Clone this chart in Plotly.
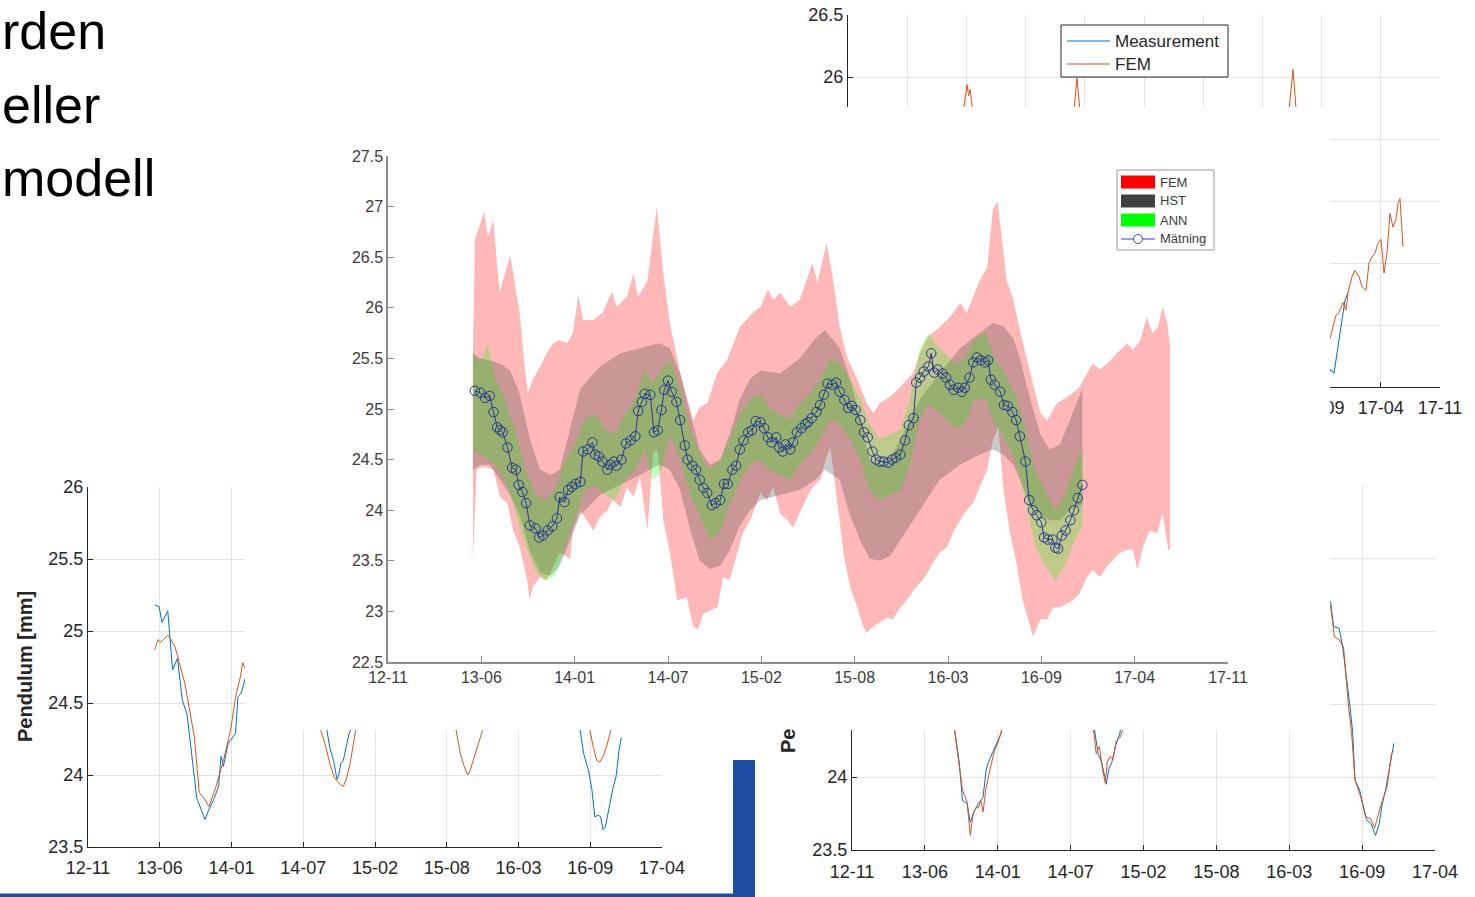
import plotly.graph_objects as go

W, H = 1475, 897
FONT = "Liberation Sans, Arial, sans-serif"

# ---------------- main chart data (x in tick-interval units: 0 = 12-11, 1 = 13-06, ...)
main_ticks = ["12-11", "13-06", "14-01", "14-07", "15-02", "15-08", "16-03", "16-09", "17-04", "17-11"]

meas_t = [0.93, 0.99, 1.04, 1.09, 1.13, 1.17, 1.20, 1.23, 1.28, 1.33,
          1.37, 1.40, 1.44, 1.48, 1.52, 1.58, 1.62, 1.66, 1.71, 1.76,
          1.81, 1.84, 1.89, 1.93, 1.97, 2.01, 2.06, 2.09, 2.14, 2.19,
          2.22, 2.26, 2.30, 2.35, 2.38, 2.42, 2.45, 2.50, 2.55, 2.60,
          2.65, 2.68, 2.72, 2.75, 2.81, 2.85, 2.89, 2.93, 2.96, 3.00,
          3.04, 3.09, 3.13, 3.18, 3.21, 3.26, 3.30, 3.34, 3.38, 3.42,
          3.47, 3.51, 3.56, 3.60, 3.64, 3.69, 3.73, 3.77, 3.81, 3.86,
          3.90, 3.94, 3.99, 4.03, 4.07, 4.11, 4.16, 4.19, 4.23, 4.26,
          4.31, 4.34, 4.38, 4.43, 4.47, 4.50, 4.54, 4.59, 4.63, 4.67,
          4.71, 4.76, 4.80, 4.84, 4.89, 4.93, 4.97, 5.01, 5.06, 5.10,
          5.14, 5.19, 5.23, 5.27, 5.31, 5.36, 5.40, 5.44, 5.49, 5.54,
          5.58, 5.63, 5.66, 5.70, 5.74, 5.79, 5.82, 5.85, 5.89, 5.94,
          5.98, 6.02, 6.06, 6.11, 6.15, 6.18, 6.23, 6.27, 6.31, 6.35,
          6.40, 6.43, 6.46, 6.50, 6.56, 6.60, 6.64, 6.69, 6.73, 6.77,
          6.83, 6.87, 6.91, 6.95, 7.00, 7.03, 7.07, 7.12, 7.15, 7.18,
          7.22, 7.26, 7.31, 7.35, 7.39, 7.44]
meas_y = [25.18, 25.16, 25.11, 25.13, 24.97, 24.82, 24.79, 24.77, 24.62, 24.42,
          24.40, 24.25, 24.18, 24.07, 23.85, 23.82, 23.73, 23.75, 23.80, 23.84,
          23.92, 24.13, 24.08, 24.20, 24.23, 24.26, 24.28, 24.58, 24.60, 24.67,
          24.55, 24.53, 24.48, 24.40, 24.45, 24.48, 24.44, 24.50, 24.66, 24.69,
          24.73, 24.98, 25.07, 25.15, 25.14, 24.77, 24.79, 24.99, 25.19, 25.28,
          25.17, 25.07, 24.89, 24.64, 24.50, 24.44, 24.40, 24.30, 24.22, 24.17,
          24.05, 24.07, 24.10, 24.26, 24.26, 24.40, 24.44, 24.60, 24.69, 24.77,
          24.79, 24.88, 24.87, 24.81, 24.72, 24.67, 24.72, 24.62, 24.58, 24.65,
          24.60, 24.67, 24.77, 24.81, 24.85, 24.87, 24.91, 24.97, 25.04, 25.14,
          25.25, 25.24, 25.26, 25.17, 25.09, 25.01, 25.03, 24.99, 24.89, 24.77,
          24.72, 24.58, 24.50, 24.48, 24.48, 24.47, 24.50, 24.52, 24.55, 24.69,
          24.84, 24.91, 25.26, 25.31, 25.37, 25.42, 25.55, 25.36, 25.39, 25.35,
          25.31, 25.24, 25.19, 25.21, 25.17, 25.21, 25.31, 25.46, 25.51, 25.48,
          25.46, 25.48, 25.29, 25.24, 25.17, 25.04, 25.03, 24.97, 24.89, 24.73,
          24.48, 24.10, 24.00, 23.95, 23.88, 23.73, 23.71, 23.71, 23.63, 23.62,
          23.75, 23.80, 23.90, 24.00, 24.12, 24.25]

fem_up_t = [0.91, 0.93, 1.03, 1.07, 1.13, 1.17, 1.20, 1.23, 1.31, 1.34,
            1.41, 1.47, 1.50, 1.55, 1.63, 1.70, 1.77, 1.84, 1.92, 1.98,
            2.04, 2.09, 2.20, 2.30, 2.40, 2.45, 2.56, 2.63, 2.68, 2.78,
            2.88, 2.95, 3.02, 3.13, 3.27, 3.34, 3.42, 3.53, 3.63, 3.77,
            3.91, 3.99, 4.07, 4.13, 4.20, 4.31, 4.41, 4.55, 4.60, 4.70,
            4.77, 4.84, 4.92, 5.03, 5.13, 5.20, 5.27, 5.38, 5.49, 5.63,
            5.70, 5.78, 5.91, 6.02, 6.13, 6.20, 6.27, 6.34, 6.42, 6.48,
            6.53, 6.58, 6.63, 6.70, 6.77, 6.88, 6.99, 7.06, 7.17, 7.28,
            7.34, 7.41, 7.49, 7.55, 7.63, 7.74, 7.81, 7.92, 7.98, 8.06,
            8.13, 8.19, 8.25, 8.30, 8.35, 8.38]
fem_up_y = [25.51, 26.67, 26.95, 26.70, 26.87, 26.40, 26.15, 26.27, 26.52, 26.34,
            25.95, 25.36, 25.16, 25.29, 25.42, 25.55, 25.65, 25.68, 25.65, 25.75,
            26.13, 25.88, 25.88, 25.95, 26.16, 26.01, 26.11, 26.34, 26.11, 26.27,
            27.00, 26.34, 25.85, 25.36, 24.89, 25.02, 25.06, 25.36, 25.48, 25.81,
            25.95, 26.01, 26.18, 26.08, 26.15, 26.01, 26.08, 26.44, 26.25, 26.64,
            26.27, 25.81, 25.51, 25.29, 25.06, 24.96, 25.06, 25.12, 25.22, 25.36,
            25.55, 25.71, 25.81, 25.91, 26.05, 25.95, 26.11, 26.27, 26.40, 26.97,
            27.05, 26.67, 26.27, 26.08, 25.78, 25.36, 24.96, 24.89, 25.06, 25.12,
            25.16, 25.22, 25.36, 25.45, 25.39, 25.48, 25.55, 25.65, 25.58, 25.68,
            25.91, 25.75, 25.81, 26.01, 25.85, 25.61]
fem_lo_t = [0.91, 0.95, 1.02, 1.13, 1.20, 1.28, 1.34, 1.41, 1.49, 1.52,
            1.55, 1.63, 1.70, 1.77, 1.84, 1.92, 1.95, 1.98, 2.06, 2.13,
            2.20, 2.27, 2.35, 2.41, 2.49, 2.56, 2.63, 2.70, 2.78, 2.84,
            2.89, 2.95, 3.02, 3.10, 3.20, 3.27, 3.32, 3.38, 3.45, 3.53,
            3.59, 3.66, 3.74, 3.80, 3.88, 3.99, 4.06, 4.13, 4.20, 4.28,
            4.34, 4.41, 4.49, 4.55, 4.63, 4.70, 4.74, 4.81, 4.88, 4.95,
            5.03, 5.09, 5.13, 5.20, 5.27, 5.35, 5.41, 5.49, 5.56, 5.63,
            5.70, 5.78, 5.84, 5.91, 5.99, 6.05, 6.13, 6.20, 6.27, 6.34,
            6.42, 6.48, 6.54, 6.59, 6.66, 6.74, 6.80, 6.86, 6.91, 6.99,
            7.06, 7.13, 7.20, 7.28, 7.34, 7.41, 7.49, 7.55, 7.63, 7.70,
            7.77, 7.84, 7.92, 7.98, 8.03, 8.09, 8.16, 8.24, 8.30, 8.36,
            8.38]
fem_lo_y = [23.51, 24.40, 24.43, 24.40, 24.13, 24.07, 23.80, 23.64, 23.31, 23.11,
            23.24, 23.34, 23.31, 23.44, 23.58, 23.54, 23.51, 23.80, 24.00, 23.90,
            23.80, 23.93, 24.00, 24.10, 24.03, 24.23, 24.13, 24.33, 23.80, 24.57,
            24.59, 23.90, 23.58, 23.11, 23.14, 22.85, 22.82, 22.98, 23.01, 23.04,
            23.34, 23.31, 23.58, 23.77, 23.90, 24.17, 24.10, 24.23, 23.97, 23.90,
            23.83, 23.97, 24.13, 24.23, 24.30, 24.53, 24.62, 24.10, 23.58, 23.24,
            23.04, 22.85, 22.79, 22.85, 22.89, 22.94, 22.92, 23.04, 23.11, 23.21,
            23.28, 23.38, 23.48, 23.58, 23.64, 23.77, 23.90, 24.00, 24.07, 24.23,
            24.40, 24.69, 24.82, 24.23, 23.80, 23.44, 23.11, 22.92, 22.75, 22.92,
            22.92, 23.04, 23.04, 23.08, 23.11, 23.18, 23.34, 23.41, 23.34, 23.44,
            23.51, 23.58, 23.61, 23.61, 23.41, 23.64, 23.80, 23.77, 23.97, 23.61,
            23.61]

hst_t = [0.91, 0.99, 1.09, 1.20, 1.31, 1.41, 1.52, 1.63, 1.74, 1.84,
         1.95, 2.06, 2.27, 2.49, 2.70, 2.91, 3.02, 3.13, 3.24, 3.34,
         3.45, 3.56, 3.66, 3.77, 3.88, 3.99, 4.20, 4.41, 4.58, 4.68,
         4.84, 4.95, 5.06, 5.16, 5.27, 5.38, 5.49, 5.70, 5.91, 6.13,
         6.34, 6.48, 6.59, 6.70, 6.77, 6.88, 6.99, 7.09, 7.20, 7.31,
         7.44]
hst_up = [25.55, 25.50, 25.48, 25.45, 25.38, 25.15, 24.70, 24.40, 24.35, 24.40,
          24.80, 25.20, 25.42, 25.55, 25.60, 25.65, 25.60, 25.35, 24.95, 24.60,
          24.45, 24.50, 24.75, 25.10, 25.30, 25.38, 25.35, 25.50, 25.70, 25.78,
          25.60, 25.30, 24.90, 24.50, 24.45, 24.50, 24.70, 25.10, 25.35, 25.60,
          25.75, 25.85, 25.82, 25.70, 25.50, 25.10, 24.75, 24.60, 24.65, 24.90,
          25.20]
hst_lo = [24.40, 24.45, 24.45, 24.30, 24.15, 23.95, 23.60, 23.38, 23.35, 23.45,
          23.70, 23.95, 24.15, 24.25, 24.35, 24.45, 24.40, 24.20, 23.80, 23.50,
          23.42, 23.45, 23.60, 23.85, 24.00, 24.10, 24.15, 24.20, 24.30, 24.40,
          24.30, 23.95, 23.70, 23.52, 23.50, 23.55, 23.70, 24.00, 24.30, 24.45,
          24.55, 24.60, 24.55, 24.45, 24.30, 24.05, 23.95, 23.90, 23.90, 24.00,
          24.05]

ann_t = [0.91, 0.99, 1.07, 1.15, 1.25, 1.36, 1.47, 1.58, 1.68, 1.79,
         1.90, 2.00, 2.11, 2.22, 2.33, 2.43, 2.54, 2.65, 2.75, 2.83,
         2.91, 3.02, 3.13, 3.24, 3.34, 3.45, 3.56, 3.66, 3.77, 3.88,
         3.99, 4.09, 4.20, 4.31, 4.41, 4.52, 4.63, 4.74, 4.84, 4.95,
         5.06, 5.16, 5.27, 5.38, 5.49, 5.59, 5.70, 5.79, 5.86, 5.97,
         6.08, 6.18, 6.29, 6.40, 6.50, 6.61, 6.72, 6.83, 6.93, 7.04,
         7.15, 7.25, 7.36, 7.44]
ann_up = [25.55, 25.45, 25.65, 25.30, 25.10, 24.80, 24.40, 24.15, 24.10, 24.20,
          24.50, 24.65, 24.90, 24.95, 24.80, 24.75, 24.95, 25.10, 25.40, 25.25,
          25.35, 25.50, 25.20, 24.80, 24.55, 24.40, 24.50, 24.70, 24.95, 25.10,
          25.15, 25.00, 24.95, 24.90, 25.05, 25.15, 25.30, 25.50, 25.45, 25.30,
          25.10, 24.85, 24.70, 24.75, 24.80, 25.10, 25.60, 25.75, 25.65, 25.55,
          25.45, 25.50, 25.70, 25.75, 25.50, 25.35, 25.15, 24.80, 24.40, 24.20,
          24.00, 24.15, 24.45, 24.60]
ann_lo = [24.60, 24.55, 24.50, 24.45, 24.30, 24.00, 23.65, 23.40, 23.30, 23.35,
          23.65, 23.90, 24.20, 24.25, 24.15, 24.10, 24.30, 24.40, 24.60, 24.30,
          24.35, 24.75, 24.50, 24.15, 23.95, 23.70, 23.80, 24.05, 24.30, 24.45,
          24.50, 24.40, 24.35, 24.30, 24.45, 24.55, 24.70, 24.90, 24.85, 24.70,
          24.50, 24.20, 24.10, 24.15, 24.20, 24.45, 24.90, 25.05, 25.00, 24.90,
          24.80, 24.85, 25.10, 25.10, 24.85, 24.70, 24.50, 24.10, 23.65, 23.45,
          23.30, 23.45, 23.70, 23.85]

main_legend_names = ["FEM", "HST", "ANN", "Mätning"]

# ---------------- background slide charts (partly hidden behind the main chart)
tr_ticks = ["12-04"] + main_ticks
tr_legend_names = ["Measurement", "FEM"]
tr_fem_t = [0.926, 0.976, 1.010, 1.036, 1.061, 1.086, 1.128, None,
            2.801, 2.835, 2.868, 2.902, 2.936, None,
            6.433, 6.483, 6.517, 6.551, 6.585, None,
            7.074, 7.159, 7.243, 7.294, 7.362, 7.412, 7.446, 7.514, 7.564, 7.632,
            7.682, 7.750, 7.801, 7.851, 7.902, 7.953, 8.003, 8.054, 8.105, 8.155,
            8.206, 8.257, 8.291, 8.324, 8.375]
tr_fem_y = [25.65, 25.81, 25.94, 25.85, 25.90, 25.81, 25.61, None,
            25.65, 25.81, 25.99, 25.81, 25.65, None,
            25.65, 25.90, 26.06, 25.85, 25.65, None,
            23.80, 23.92, 24.08, 24.10, 24.18, 24.12, 24.26, 24.39, 24.44, 24.39,
            24.31, 24.28, 24.50, 24.55, 24.58, 24.66, 24.69, 24.42, 24.58, 24.90,
            24.79, 24.85, 24.98, 25.02, 24.63]
tr_meas_t = [7.074, 7.159, 7.209, 7.260, 7.328, 7.395, 7.446]
tr_meas_y = [23.56, 23.64, 23.61, 23.77, 23.98, 24.20, 24.26]

bot_ticks = main_ticks[:9]
bl_meas_t = [0.930, 0.991, 1.031, 1.112, 1.179, 1.247, 1.314, 1.381, 1.516, 1.631,
             1.685, 1.752, 1.820, 1.854, 1.887, 1.954, 2.056, 2.089, 2.137, 2.191,
             2.258, None,
             3.30, 3.337, 3.370, 3.423, 3.470, 3.491, 3.525, 3.558, 3.606, 3.639,
             3.672, 3.70, None,
             6.82, 6.861, 6.907, 6.976, 7.023, 7.063, 7.111, 7.144, 7.178, 7.211,
             7.265, 7.313, 7.360, 7.401, 7.434]
bl_meas_y = [25.18, 25.17, 25.06, 25.14, 24.73, 24.81, 24.52, 24.42, 23.84, 23.69,
             23.76, 23.83, 23.92, 24.13, 24.06, 24.22, 24.29, 24.54, 24.57, 24.67,
             24.72, None,
             24.40, 24.30, 24.19, 24.10, 23.97, 23.99, 24.08, 24.10, 24.22, 24.29,
             24.32, 24.40, None,
             24.45, 24.30, 24.15, 24.03, 23.90, 23.71, 23.72, 23.71, 23.62, 23.64,
             23.78, 23.90, 23.99, 24.17, 24.26]
bl_fem_t = [0.930, 0.976, 1.010, 1.112, 1.157, 1.213, 1.348, 1.483, 1.550, 1.617,
            1.685, 1.784, 1.887, 1.987, 2.056, 2.123, 2.156, 2.191, 2.258, None,
            3.20, 3.249, 3.302, 3.370, 3.437, 3.505, 3.558, 3.606, 3.653, 3.707,
            3.727, 3.77, None,
            5.09, 5.136, 5.189, 5.243, 5.290, 5.324, 5.357, 5.405, 5.459, 5.493,
            5.54, None,
            6.95, 6.996, 7.044, 7.091, 7.132, 7.178, 7.222, 7.277, 7.32]
bl_fem_y = [24.87, 24.94, 24.92, 24.97, 24.94, 24.89, 24.64, 24.26, 23.88, 23.84,
            23.78, 23.92, 24.10, 24.31, 24.54, 24.68, 24.78, 24.74, 24.80, None,
            24.42, 24.30, 24.22, 24.08, 23.98, 23.94, 23.92, 23.98, 24.08, 24.26,
            24.30, 24.42, None,
            24.42, 24.30, 24.15, 24.06, 24.00, 24.03, 24.08, 24.15, 24.24, 24.30,
            24.42, None,
            24.42, 24.30, 24.19, 24.10, 24.09, 24.13, 24.19, 24.29, 24.42]

br_meas_t = [1.38, 1.409, 1.472, 1.516, 1.579, 1.623, 1.672, 1.735, 1.798, 1.841,
             1.872, 1.923, 1.986, 2.048, 2.09, None,
             3.30, 3.332, 3.376, 3.426, 3.490, 3.521, 3.565, 3.614, 3.676, 3.72, None,
             6.488, 6.570, 6.608, 6.683, 6.734, 6.776, 6.839, 6.871, 6.902, 6.966,
             7.009, 7.059, 7.122, 7.184, 7.234, 7.278, 7.322, 7.373, 7.435]
br_meas_y = [24.42, 24.31, 24.10, 23.84, 23.82, 23.69, 23.76, 23.82, 23.86, 24.05,
             24.10, 24.16, 24.23, 24.30, 24.42, None,
             24.42, 24.31, 24.16, 24.10, 23.95, 24.05, 24.10, 24.21, 24.30, 24.42, None,
             25.28, 25.19, 25.03, 25.02, 24.89, 24.73, 24.46, 24.30, 23.98, 23.91,
             23.82, 23.71, 23.68, 23.60, 23.68, 23.82, 23.91, 24.05, 24.23]
br_fem_t = [1.38, 1.409, 1.454, 1.516, 1.579, 1.623, 1.660, 1.704, 1.735, 1.767,
            1.798, 1.835, 1.892, 1.955, 1.999, 2.048, 2.09, None,
            3.29, 3.320, 3.351, 3.395, 3.439, 3.476, 3.502, 3.539, 3.583, 3.627,
            3.676, 3.708, 3.75, None,
            6.488, 6.570, 6.620, 6.683, 6.745, 6.808, 6.859, 6.902, 6.983, 7.046,
            7.122, 7.171, 7.215, 7.278, 7.341, 7.403, 7.435]
br_fem_y = [24.42, 24.31, 24.16, 23.91, 23.83, 23.60, 23.75, 23.79, 23.79, 23.84,
            23.76, 23.91, 24.05, 24.18, 24.23, 24.31, 24.42, None,
            24.42, 24.31, 24.16, 24.21, 24.05, 23.96, 24.10, 24.14, 24.12, 24.25,
            24.27, 24.31, 24.42, None,
            25.28, 25.16, 24.96, 24.94, 24.89, 24.51, 24.28, 23.98, 23.86, 23.73,
            23.71, 23.65, 23.73, 23.84, 23.93, 24.16, 24.18]

slide_words = ["rden", "eller", "modell"]

# ---------------- helpers (pixel -> paper fraction)
def px_x(p):
    return p / W


def px_y(p):
    return 1 - p / H


BLUE = "#0072BD"
ORANGE = "#D95319"
DARK = "#262626"
MEAS_LINE = "#23398f"
MEAS_MARK = "#3440d8"
FILL_FEM = "rgba(255,0,0,0.28)"
FILL_HST = "rgba(64,64,64,0.28)"
FILL_ANN = "rgba(0,255,0,0.25)"

fig = go.Figure()

# --- subplot 1: top-right background chart
fig.add_trace(go.Scatter(x=tr_meas_t, y=tr_meas_y, mode="lines", name="Measurement",
                         showlegend=False, line=dict(color=BLUE, width=1),
                         xaxis="x", yaxis="y"))
fig.add_trace(go.Scatter(x=tr_fem_t, y=tr_fem_y, mode="lines", name="FEM",
                         showlegend=False, line=dict(color=ORANGE, width=1),
                         xaxis="x", yaxis="y"))
# --- subplot 2: bottom-left background chart
fig.add_trace(go.Scatter(x=bl_meas_t, y=bl_meas_y, mode="lines", showlegend=False,
                         line=dict(color=BLUE, width=1), xaxis="x2", yaxis="y2"))
fig.add_trace(go.Scatter(x=bl_fem_t, y=bl_fem_y, mode="lines", showlegend=False,
                         line=dict(color=ORANGE, width=1), xaxis="x2", yaxis="y2"))
# --- subplot 3: bottom-right background chart
fig.add_trace(go.Scatter(x=br_meas_t, y=br_meas_y, mode="lines", showlegend=False,
                         line=dict(color=BLUE, width=1), xaxis="x3", yaxis="y3"))
fig.add_trace(go.Scatter(x=br_fem_t, y=br_fem_y, mode="lines", showlegend=False,
                         line=dict(color=ORANGE, width=1), xaxis="x3", yaxis="y3"))
# --- subplot 4: white panel of the pasted main picture (covers the slide charts)
fig.add_trace(go.Scatter(x=[None], y=[None], showlegend=False, hoverinfo="skip",
                         xaxis="x4", yaxis="y4"))


# --- subplot 5: main chart
def band(tu, yu, tl, yl):
    return list(tu) + list(tl)[::-1], list(yu) + list(yl)[::-1]


for (tu, yu, tl, yl), col in [((fem_up_t, fem_up_y, fem_lo_t, fem_lo_y), FILL_FEM),
                              ((hst_t, hst_up, hst_t, hst_lo), FILL_HST),
                              ((ann_t, ann_up, ann_t, ann_lo), FILL_ANN)]:
    bx, by = band(tu, yu, tl, yl)
    fig.add_trace(go.Scatter(x=bx, y=by, fill="toself", fillcolor=col,
                             line=dict(width=0), mode="lines", showlegend=False,
                             xaxis="x5", yaxis="y5", hoverinfo="skip"))
fig.add_trace(go.Scatter(x=meas_t, y=meas_y, mode="lines+markers", showlegend=False,
                         line=dict(color=MEAS_LINE, width=1),
                         marker=dict(symbol="circle-open", size=9.5,
                                     line=dict(color=MEAS_MARK, width=1)),
                         xaxis="x5", yaxis="y5"))

bg_axis = dict(showline=True, linecolor=DARK, linewidth=1, ticks="inside", ticklen=5,
               tickcolor=DARK, showgrid=True, gridcolor="#e3e3e3", gridwidth=1,
               zeroline=False, automargin=False,
               tickfont=dict(family=FONT, size=18, color=DARK))
main_axis = dict(showline=True, linecolor="#8c8c8c", linewidth=1.5, ticks="inside",
                 ticklen=6, tickcolor="#8c8c8c", showgrid=False, zeroline=False,
                 automargin=False, tickfont=dict(family=FONT, size=16, color="#3c3c3c"))
hidden = dict(visible=False, showgrid=False, zeroline=False, showline=False,
              automargin=False)

fig.update_layout(
    template="none",
    width=W, height=H, margin=dict(l=0, r=0, t=0, b=0, pad=0, autoexpand=False),
    paper_bgcolor="white", plot_bgcolor="white",
    font=dict(family=FONT, color=DARK),
    hovermode=False, showlegend=False,
    xaxis=dict(bg_axis, domain=[px_x(848), px_x(1440)], range=[-1, 9],
               tickvals=list(range(-1, 10)), ticktext=tr_ticks, anchor="y",
               ticklabelstandoff=4),
    yaxis=dict(bg_axis, domain=[px_y(387), px_y(15)], range=[23.5, 26.5], dtick=0.5,
               anchor="x"),
    xaxis2=dict(bg_axis, domain=[px_x(88), px_x(662)], range=[0, 8],
                tickvals=list(range(9)), ticktext=bot_ticks, anchor="y2",
                ticklabelstandoff=4),
    yaxis2=dict(bg_axis, domain=[px_y(847), px_y(487)], range=[23.5, 26], dtick=0.5,
                anchor="x2"),
    xaxis3=dict(bg_axis, domain=[px_x(852), px_x(1435)], range=[0, 8],
                tickvals=list(range(9)), ticktext=bot_ticks, anchor="y3",
                ticklabelstandoff=5),
    yaxis3=dict(bg_axis, domain=[px_y(850), px_y(485)], range=[23.5, 26], dtick=0.5,
                anchor="x3"),
    xaxis4=dict(hidden, domain=[px_x(245), px_x(1330)], range=[0, 1], anchor="y4"),
    yaxis4=dict(hidden, domain=[px_y(730), px_y(107)], range=[0, 1], anchor="x4"),
    xaxis5=dict(main_axis, domain=[px_x(388), px_x(1228)], range=[0, 9],
                tickvals=list(range(10)), ticktext=main_ticks, anchor="y5"),
    yaxis5=dict(main_axis, domain=[px_y(662), px_y(156)], range=[22.5, 27.5], dtick=0.5,
                anchor="x5"),
)

# ---- legend of the top-right slide chart (box, line swatches and labels)
fig.add_shape(type="rect", xref="paper", yref="paper", x0=px_x(1061), x1=px_x(1228),
              y0=px_y(77), y1=px_y(25), fillcolor="white",
              line=dict(color=DARK, width=1), layer="above")
for nm, col, yc in zip(tr_legend_names, [BLUE, ORANGE], [41, 64]):
    fig.add_shape(type="line", xref="paper", yref="paper", x0=px_x(1067), x1=px_x(1110),
                  y0=px_y(yc), y1=px_y(yc), line=dict(color=col, width=1), layer="above")
    fig.add_annotation(text=nm, xref="paper", yref="paper", x=px_x(1113), y=px_y(yc),
                       xanchor="left", yanchor="middle", showarrow=False,
                       font=dict(family=FONT, size=17, color=DARK))

# ---- legend of the main chart (box, swatches and labels)
fig.add_shape(type="rect", xref="paper", yref="paper", x0=px_x(1117), x1=px_x(1214),
              y0=px_y(250), y1=px_y(170), fillcolor="white",
              line=dict(color="#9a9a9a", width=1), layer="above")
row_y = [182, 201, 220, 239]
for col, yc in zip(["#ff0000", "#404040", "#00ff00"], row_y[:3]):
    fig.add_shape(type="rect", xref="paper", yref="paper", x0=px_x(1121), x1=px_x(1155),
                  y0=px_y(yc + 6.5), y1=px_y(yc - 6.5), fillcolor=col,
                  line=dict(width=0), layer="above")
fig.add_shape(type="line", xref="paper", yref="paper", x0=px_x(1121), x1=px_x(1155),
              y0=px_y(row_y[3]), y1=px_y(row_y[3]), line=dict(color=MEAS_MARK, width=1),
              layer="above")
fig.add_shape(type="circle", xref="paper", yref="paper", x0=px_x(1133.5), x1=px_x(1142.5),
              y0=px_y(row_y[3] + 4.5), y1=px_y(row_y[3] - 4.5),
              line=dict(color=MEAS_MARK, width=1), fillcolor="white", layer="above")
for nm, yc in zip(main_legend_names, row_y):
    fig.add_annotation(text=nm, xref="paper", yref="paper", x=px_x(1158), y=px_y(yc),
                       xanchor="left", yanchor="middle", showarrow=False,
                       font=dict(family=FONT, size=13, color="#3c3c3c"))

# slide text fragments (left edge of the slide)
for word, xl, yc in zip(slide_words, [0, 0, 0], [31, 105, 178]):
    fig.add_annotation(text=word, xref="paper", yref="paper", x=px_x(xl), y=px_y(yc),
                       xanchor="left", yanchor="middle", showarrow=False,
                       font=dict(family=FONT, size=52, color="black"))

# y-axis titles of background charts
fig.add_annotation(text="<b>Pendulum [mm]</b>", xref="paper", yref="paper",
                   x=px_x(25), y=px_y(667), textangle=-90, showarrow=False,
                   xanchor="center", yanchor="middle",
                   font=dict(family=FONT, size=20, color=DARK))
fig.add_annotation(text="<b>Pe</b>", xref="paper", yref="paper",
                   x=px_x(788), y=px_y(741), textangle=-90, showarrow=False,
                   xanchor="center", yanchor="middle",
                   font=dict(family=FONT, size=20, color=DARK))

# slide decoration (blue bar and bottom rule)
fig.add_shape(type="rect", xref="paper", yref="paper", x0=px_x(733), x1=px_x(755),
              y0=px_y(897), y1=px_y(760), fillcolor="#1c4fa3", line=dict(width=0),
              layer="above")
fig.add_shape(type="rect", xref="paper", yref="paper", x0=0, x1=px_x(755),
              y0=px_y(897), y1=px_y(893.5), fillcolor="#1c4fa3", line=dict(width=0),
              layer="above")

fig.write_html("out.html", config={"displayModeBar": False},
               post_script="document.body.style.margin='0';document.body.style.overflow='hidden';")
